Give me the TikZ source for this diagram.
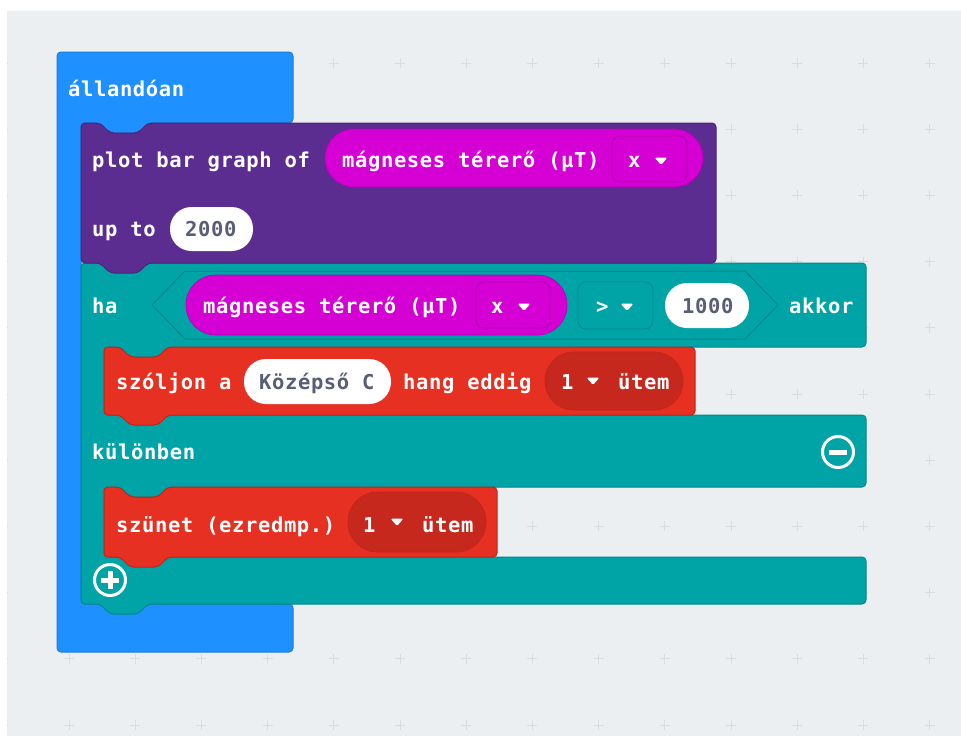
\documentclass[tikz,border=0pt]{standalone}
\usepackage{fontspec}
\newfontfamily\blockfont[LetterSpace=3.0]{DejaVu Sans Mono}
\newcommand{\blocksize}{\fontsize{20.5}{23}\selectfont}
\definecolor{canvas}{HTML}{ECEFF1}
\definecolor{gridline}{HTML}{D6DCE0}
\definecolor{mcblue}{HTML}{1E90FF}
\definecolor{mcblueline}{HTML}{1A7BDB}
\definecolor{mcpurple}{HTML}{5C2D91}
\definecolor{mcpurpleline}{HTML}{4B2477}
\definecolor{mcteal}{HTML}{00A4A6}
\definecolor{mctealline}{HTML}{00888A}
\definecolor{mcred}{HTML}{E63022}
\definecolor{mcredline}{HTML}{BE261B}
\definecolor{mcdarkred}{HTML}{C6281E}
\definecolor{mcmagenta}{HTML}{D400D4}
\definecolor{mcmagentaline}{HTML}{AE00AE}
\definecolor{fieldtext}{HTML}{575E75}
\usetikzlibrary{positioning}

\begin{document}
\begin{tikzpicture}[
    x=1pt, y=-1pt,
    blk/.style={line width=1pt, rounded corners=4, line join=round},
    lbl/.style={anchor=base west, inner sep=0pt, text=white, font=\blockfont\bfseries\blocksize},
    fld/.style={anchor=base west, inner sep=0pt, text=fieldtext, font=\blockfont\bfseries\blocksize},
    dropbox/.style={line width=0.8pt, rounded corners=8},
    cross/.style={draw=gridline, line width=0.8pt},
    icon/.style={draw=white, line width=3pt}
]
\useasboundingbox (0,0) rectangle (961,736);

% Workspace and grid
\fill[white] (0,0) rectangle (961,736);
\fill[canvas] (7,11) rectangle (961,736);
\begin{scope}
\clip (7,11) rectangle (961,736);
\foreach \i in {0,...,14} \foreach \j in {0,...,10} {
    \draw[cross] (2.8+66.2*\i-5, 63+66.2*\j) -- ++(10,0) (2.8+66.2*\i, 63+66.2*\j-5) -- ++(0,10);
}
\end{scope}

% forever block
\filldraw[blk, fill=mcblue, draw=mcblueline] (57,52) -- (293,52) -- (293,123) -- (148,123) -- ++(-10,10) -- ++(-28,0) -- ++(-10,-10) -- (81,123) -- (81,604) -- (293,604) -- (293,652) -- (57,652) -- cycle;

% if / else block
\filldraw[blk, fill=mcteal, draw=mctealline] (81,263) -- (866,263) -- (866,347) -- (168,347) -- ++(-10,10) -- ++(-28,0) -- ++(-10,-10) -- (104,347) -- (104,415) -- (866,415) -- (866,487) -- (168,487) -- ++(-10,10) -- ++(-28,0) -- ++(-10,-10) -- (104,487) -- (104,557) -- (866,557) -- (866,604) -- (148,604) -- ++(-10,10) -- ++(-28,0) -- ++(-10,-10) -- (81,604) -- cycle;

% plot bar graph block
\filldraw[blk, fill=mcpurple, draw=mcpurpleline] (81,123) -- (100,123) -- ++(10,10) -- ++(28,0) -- ++(10,-10) -- (716,123) -- (716,263) -- (148,263) -- ++(-10,10) -- ++(-28,0) -- ++(-10,-10) -- (81,263) -- cycle;

% music blocks
\filldraw[blk, fill=mcred, draw=mcredline] (104,347) -- (120,347) -- ++(10,10) -- ++(28,0) -- ++(10,-10) -- (695,347) -- (695,415) -- (168,415) -- ++(-10,10) -- ++(-28,0) -- ++(-10,-10) -- (104,415) -- cycle;
\filldraw[blk, fill=mcred, draw=mcredline] (104,487) -- (120,487) -- ++(10,10) -- ++(28,0) -- ++(10,-10) -- (497,487) -- (497,557) -- (168,557) -- ++(-10,10) -- ++(-28,0) -- ++(-10,-10) -- (104,557) -- cycle;

% comparison (hexagon)
\filldraw[fill=mcteal, draw=mctealline, line width=1pt, line join=round] (152,305) -- (185,271) -- (745,271) -- (778,305) -- (745,339) -- (185,339) -- cycle;

% reporters and fields
\filldraw[fill=mcmagenta, draw=mcmagentaline, line width=0.6pt, rounded corners=28.5] (325,129) rectangle (703,187);
\filldraw[dropbox, fill=mcmagenta, draw=mcmagentaline] (612,136) rectangle (687,182);
\filldraw[fill=mcmagenta, draw=mcmagentaline, line width=0.6pt, rounded corners=29.5] (186,275) rectangle (567,335);
\filldraw[dropbox, fill=mcmagenta, draw=mcmagentaline] (476,282) rectangle (550,328);
\filldraw[dropbox, fill=mcteal, draw=mctealline] (578,282) rectangle (653,329);
\fill[white, rounded corners=21.5] (170,207) rectangle (253,251);
\fill[white, rounded corners=22] (244,359) rectangle (391,404);
\fill[white, rounded corners=22] (665,283) rectangle (749,328);
\filldraw[fill=mcdarkred, draw=mcredline, line width=0.6pt, rounded corners=28.5] (545,352) rectangle (683,410);
\filldraw[fill=mcdarkred, draw=mcredline, line width=0.6pt, rounded corners=29.5] (348,492) rectangle (486,552);

% dropdown marks
\foreach \p in {(661,161), (524,307), (627,307), (593,381), (397,522)} {
    \fill[white, rounded corners=1.5, shift={\p}] (-6.5,-3.5) -- (6.5,-3.5) -- (0,4) -- cycle;
}

% labels
\node[lbl] (forever) at (68,96) {állandóan};
\node[lbl] (plot) at (92,167) {plot bar graph of};
\node[lbl] (magA) at (342,167) {mágneses térerő (µT)};
\node[lbl] (axisA) at (628,167) {x};
\node[lbl] (upto) at (92,236) {up to};
\node[fld] (maxval) at (185,236) {2000};
\node[lbl] (ifkw) at (92,313) {ha};
\node[lbl] (magB) at (203,313) {mágneses térerő (µT)};
\node[lbl] (axisB) at (491,313) {x};
\node[lbl] (opgt) at (596,313) {>};
\node[fld] (limit) at (682,313) {1000};
\node[lbl] (thenkw) at (789,313) {akkor};
\node[lbl] (play) at (116,389) {szóljon a};
\node[fld] (note) at (259,389) {Középső C};
\node[lbl] (forkw) at (403,389) {hang eddig};
\node[lbl] (beatA) at (561,389) {1};
\node[lbl] (unitA) at (618,389) {ütem};
\node[lbl] (elsekw) at (92,459) {különben};
\node[lbl] (pause) at (116,532) {szünet (ezredmp.)};
\node[lbl] (beatB) at (363,532) {1};
\node[lbl] (unitB) at (422,532) {ütem};

% minus / plus buttons
\draw[icon] (838,452) circle (15.5);
\draw[white, line width=5pt] (829,452) -- (847,452);
\draw[icon] (110,580) circle (15.5);
\draw[white, line width=5pt] (101,580) -- (119,580) (110,571) -- (110,589);

\end{tikzpicture}
\end{document}
